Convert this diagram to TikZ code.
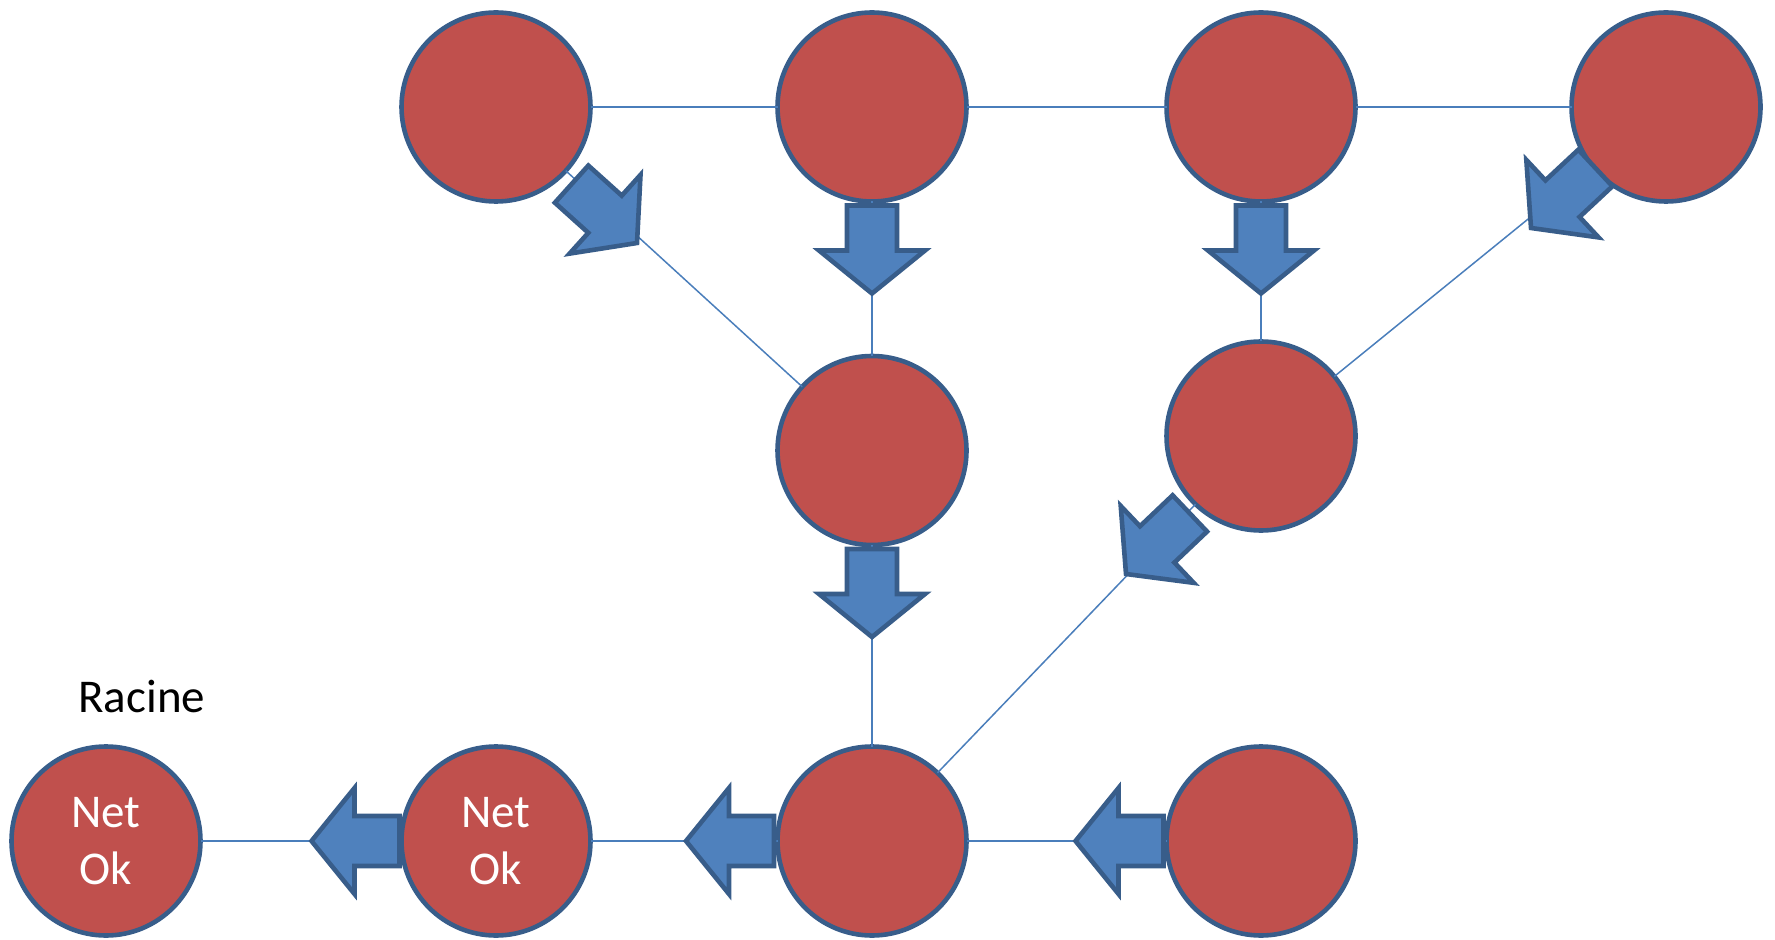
\documentclass[tikz,border=0pt]{standalone}
\usepackage{fontspec}
\setmainfont{Carlito}
\definecolor{nodefill}{HTML}{C0504D}
\definecolor{edgeblue}{HTML}{385D8A}
\definecolor{arrowfill}{HTML}{4F81BD}
\definecolor{linkblue}{HTML}{4A7EBB}
\tikzset{
  circ/.style={circle, draw=edgeblue, fill=nodefill, line width=2.3pt, minimum size=94.5pt, inner sep=0pt, outer sep=0pt},
  link/.style={draw=linkblue, line width=0.75pt},
  barrow/.style={draw=edgeblue, fill=arrowfill, line width=2.3pt, line join=miter},
  lbl/.style={font=\fontsize{23.5}{28.3}\selectfont}
}
\newcommand{\blockarr}[2]{%
  \begin{scope}[shift={(#1)},rotate=#2]
    \path[barrow] (0,0) -- (-43,53) -- (-43,25) -- (-88,25) -- (-88,-25) -- (-43,-25) -- (-43,-53) -- cycle;
  \end{scope}}
\begin{document}
\begin{tikzpicture}[x=0.5pt,y=-0.5pt]
\useasboundingbox (0,0) rectangle (1775,940);
% nodes
\node[circ] (A) at (496,107) {};
\node[circ] (B) at (872,107) {};
\node[circ] (C) at (1261,107) {};
\node[circ] (D) at (1666,107) {};
\node[circ] (M1) at (872,450.5) {};
\node[circ] (M2) at (1261,436) {};
\node[circ, lbl, text=white, align=center] (R1) at (106,841) {Net\\Ok};
\node[circ, lbl, text=white, align=center] (R2) at (496,841) {Net\\Ok};
\node[circ] (B3) at (872,841) {};
\node[circ] (B4) at (1261,841) {};
\node[lbl, anchor=base west, inner sep=0pt] (racine) at (78,712) {Racine};
% links
\draw[link] (A) -- (B);
\draw[link] (B) -- (C);
\draw[link] (C) -- (D);
\draw[link] (A) -- (M1);
\draw[link] (B) -- (M1);
\draw[link] (C) -- (M2);
\draw[link] (D) -- (M2);
\draw[link] (M1) -- (B3);
\draw[link] (M2) -- (B3);
\draw[link] (R1) -- (R2);
\draw[link] (R2) -- (B3);
\draw[link] (B3) -- (B4);
% block arrows
\blockarr{872,293.5}{-90}
\blockarr{1261,293.5}{-90}
\blockarr{872,637}{-90}
\blockarr{637,243}{-42}
\blockarr{1531,228}{-137}
\blockarr{1126,574}{-136.5}
\blockarr{311.5,841}{180}
\blockarr{686,841}{180}
\blockarr{1075.5,841}{180}
\end{tikzpicture}
\end{document}
